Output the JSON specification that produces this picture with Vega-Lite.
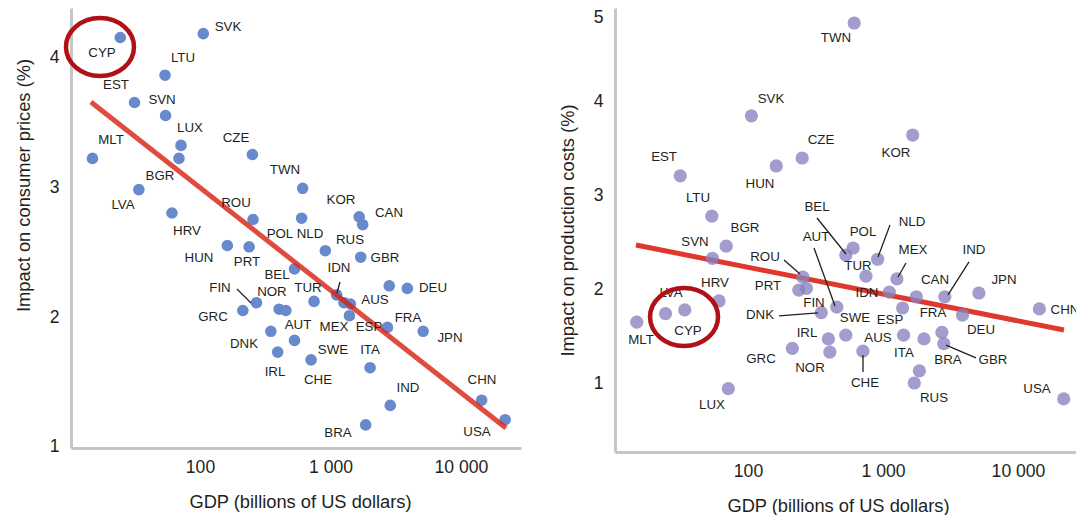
{
  "$schema": "https://vega.github.io/schema/vega-lite/v6.json",
  "background": "white",
  "padding": {"left": 14, "top": 8, "right": 0, "bottom": 0},
  "spacing": 37,
  "config": {
    "font": "Liberation Sans, Arial, sans-serif",
    "view": {"stroke": null},
    "axis": {"domainColor": "#c6c6c6", "domainWidth": 3, "ticks": false, "grid": false, "labelFontSize": 17.6, "labelColor": "#231f20", "titleFontSize": 18.3, "titleFontWeight": "normal", "titleColor": "#231f20", "format": "d"},
    "axisX": {"labelPadding": 10, "titlePadding": 18},
    "axisY": {"labelPadding": 12, "titlePadding": 16}
  },
  "datasets": {
    "pts": [
      {"c": "MLT", "gdp": 15, "cp": 3.22, "pc": 1.65},
      {"c": "CYP", "gdp": 24.5, "cp": 4.15, "pc": 1.74},
      {"c": "LVA", "gdp": 34, "cp": 2.98, "pc": 1.78},
      {"c": "EST", "gdp": 31.5, "cp": 3.65, "pc": 3.21},
      {"c": "SVN", "gdp": 54.5, "cp": 3.55, "pc": 2.33},
      {"c": "LTU", "gdp": 54, "cp": 3.86, "pc": 2.78},
      {"c": "HRV", "gdp": 61, "cp": 2.8, "pc": 1.875},
      {"c": "BGR", "gdp": 69, "cp": 3.22, "pc": 2.46},
      {"c": "LUX", "gdp": 71.5, "cp": 3.32, "pc": 0.94},
      {"c": "SVK", "gdp": 106, "cp": 4.18, "pc": 3.85},
      {"c": "HUN", "gdp": 162, "cp": 2.55, "pc": 3.315},
      {"c": "GRC", "gdp": 213, "cp": 2.05, "pc": 1.37},
      {"c": "PRT", "gdp": 238, "cp": 2.54, "pc": 1.99},
      {"c": "ROU", "gdp": 255, "cp": 2.75, "pc": 2.13},
      {"c": "CZE", "gdp": 252, "cp": 3.25, "pc": 3.4},
      {"c": "FIN", "gdp": 271, "cp": 2.11, "pc": 2.01},
      {"c": "DNK", "gdp": 349, "cp": 1.89, "pc": 1.75},
      {"c": "IRL", "gdp": 394, "cp": 1.73, "pc": 1.47},
      {"c": "NOR", "gdp": 404, "cp": 2.06, "pc": 1.33},
      {"c": "AUT", "gdp": 455, "cp": 2.05, "pc": 1.81},
      {"c": "BEL", "gdp": 530, "cp": 2.37, "pc": 2.365},
      {"c": "SWE", "gdp": 530, "cp": 1.82, "pc": 1.51},
      {"c": "POL", "gdp": 601, "cp": 2.76, "pc": 2.44},
      {"c": "TWN", "gdp": 612, "cp": 2.99, "pc": 4.84},
      {"c": "CHE", "gdp": 710, "cp": 1.67, "pc": 1.34},
      {"c": "TUR", "gdp": 748, "cp": 2.12, "pc": 2.14},
      {"c": "NLD", "gdp": 913, "cp": 2.51, "pc": 2.32},
      {"c": "IDN", "gdp": 1115, "cp": 2.17, "pc": 1.97},
      {"c": "MEX", "gdp": 1268, "cp": 2.11, "pc": 2.11},
      {"c": "ESP", "gdp": 1397, "cp": 2.01, "pc": 1.8},
      {"c": "AUS", "gdp": 1420, "cp": 2.1, "pc": 1.51},
      {"c": "KOR", "gdp": 1660, "cp": 2.77, "pc": 3.645},
      {"c": "RUS", "gdp": 1705, "cp": 2.46, "pc": 1.0},
      {"c": "CAN", "gdp": 1765, "cp": 2.71, "pc": 1.92},
      {"c": "BRA", "gdp": 1860, "cp": 1.17, "pc": 1.13},
      {"c": "ITA", "gdp": 2012, "cp": 1.61, "pc": 1.47},
      {"c": "FRA", "gdp": 2730, "cp": 1.92, "pc": 1.54},
      {"c": "GBR", "gdp": 2820, "cp": 2.24, "pc": 1.42},
      {"c": "IND", "gdp": 2870, "cp": 1.32, "pc": 1.92},
      {"c": "DEU", "gdp": 3880, "cp": 2.22, "pc": 1.725},
      {"c": "JPN", "gdp": 5130, "cp": 1.89, "pc": 1.96},
      {"c": "CHN", "gdp": 14400, "cp": 1.36, "pc": 1.79},
      {"c": "USA", "gdp": 21800, "cp": 1.21, "pc": 0.83}
    ],
    "fitL": [{"gdp": 14.6, "v": 3.654}, {"gdp": 22100, "v": 1.146}],
    "fitR": [{"gdp": 14.8, "v": 2.472}, {"gdp": 21900, "v": 1.565}],
    "ringL": [{"x": 17.13, "y": 4.077}],
    "ringR": [{"x": 33.6, "y": 1.704}],
    "labL": [
      {"c": "SVK", "x": 163.9, "y": 4.231},
      {"c": "CYP", "x": 17.74, "y": 4.031},
      {"c": "LTU", "x": 74.1, "y": 3.992},
      {"c": "EST", "x": 22.7, "y": 3.785},
      {"c": "SVN", "x": 51.2, "y": 3.669},
      {"c": "LUX", "x": 83.8, "y": 3.454},
      {"c": "CZE", "x": 188.7, "y": 3.377},
      {"c": "MLT", "x": 20.8, "y": 3.362},
      {"c": "BGR", "x": 49.4, "y": 3.085},
      {"c": "LVA", "x": 25.7, "y": 2.862},
      {"c": "ROU", "x": 188.7, "y": 2.877},
      {"c": "HRV", "x": 79.5, "y": 2.662},
      {"c": "TWN", "x": 448, "y": 3.131},
      {"c": "KOR", "x": 1204, "y": 2.9},
      {"c": "CAN", "x": 2808, "y": 2.8},
      {"c": "POL", "x": 410, "y": 2.638},
      {"c": "NLD", "x": 696.5, "y": 2.638},
      {"c": "RUS", "x": 1411, "y": 2.592},
      {"c": "GBR", "x": 2616, "y": 2.454},
      {"c": "HUN", "x": 98.2, "y": 2.454},
      {"c": "PRT", "x": 229.2, "y": 2.423},
      {"c": "BEL", "x": 389, "y": 2.323},
      {"c": "IDN", "x": 1162, "y": 2.377},
      {"c": "FIN", "x": 142.3, "y": 2.223},
      {"c": "NOR", "x": 356, "y": 2.192},
      {"c": "TUR", "x": 672, "y": 2.223},
      {"c": "DEU", "x": 6101, "y": 2.223},
      {"c": "AUS", "x": 2193, "y": 2.131},
      {"c": "GRC", "x": 125.8, "y": 2.0},
      {"c": "AUT", "x": 563.6, "y": 1.938},
      {"c": "MEX", "x": 1064, "y": 1.923},
      {"c": "ESP", "x": 1972, "y": 1.923},
      {"c": "FRA", "x": 3926, "y": 1.992},
      {"c": "JPN", "x": 8236, "y": 1.838},
      {"c": "DNK", "x": 217.4, "y": 1.792},
      {"c": "SWE", "x": 1045, "y": 1.746},
      {"c": "ITA", "x": 2008, "y": 1.746},
      {"c": "IRL", "x": 375.6, "y": 1.577},
      {"c": "CHE", "x": 802, "y": 1.515},
      {"c": "IND", "x": 3926, "y": 1.454},
      {"c": "CHN", "x": 14480, "y": 1.515},
      {"c": "BRA", "x": 1142, "y": 1.108},
      {"c": "USA", "x": 13265, "y": 1.115}
    ],
    "leadL": [
      {"x1": 192.1, "y1": 2.215, "x2": 246, "y2": 2.108},
      {"x1": 1182, "y1": 2.269, "x2": 1121, "y2": 2.185}
    ],
    "labR": [
      {"c": "SVK", "x": 148.1, "y": 4.029},
      {"c": "EST", "x": 23.9, "y": 3.411},
      {"c": "HUN", "x": 122.7, "y": 3.123},
      {"c": "LTU", "x": 42.6, "y": 2.973},
      {"c": "BGR", "x": 95.0, "y": 2.653},
      {"c": "SVN", "x": 40.5, "y": 2.504},
      {"c": "CZE", "x": 347.4, "y": 3.592},
      {"c": "TWN", "x": 448.6, "y": 4.68},
      {"c": "KOR", "x": 1248, "y": 3.453},
      {"c": "BEL", "x": 324.5, "y": 2.877},
      {"c": "AUT", "x": 318.9, "y": 2.557},
      {"c": "POL", "x": 711, "y": 2.611},
      {"c": "NLD", "x": 1640, "y": 2.717},
      {"c": "MEX", "x": 1668, "y": 2.419},
      {"c": "IND", "x": 4722, "y": 2.419},
      {"c": "TUR", "x": 652.8, "y": 2.248},
      {"c": "ROU", "x": 133.6, "y": 2.344},
      {"c": "CAN", "x": 2428, "y": 2.099},
      {"c": "PRT", "x": 140.7, "y": 2.035},
      {"c": "IDN", "x": 761.5, "y": 1.96},
      {"c": "FIN", "x": 308.3, "y": 1.853},
      {"c": "DNK", "x": 122.7, "y": 1.725},
      {"c": "SWE", "x": 620.3, "y": 1.693},
      {"c": "ESP", "x": 1127, "y": 1.672},
      {"c": "FRA", "x": 2347, "y": 1.747},
      {"c": "IRL", "x": 273.5, "y": 1.533},
      {"c": "AUS", "x": 918.4, "y": 1.48},
      {"c": "GRC", "x": 124.8, "y": 1.256},
      {"c": "NOR", "x": 288, "y": 1.16},
      {"c": "ITA", "x": 1430, "y": 1.32},
      {"c": "BRA", "x": 3030, "y": 1.245},
      {"c": "DEU", "x": 5320, "y": 1.565},
      {"c": "GBR", "x": 6528, "y": 1.245},
      {"c": "JPN", "x": 7876, "y": 2.099},
      {"c": "CHN", "x": 22290, "y": 1.779},
      {"c": "CHE", "x": 735.6, "y": 1.0},
      {"c": "RUS", "x": 2387, "y": 0.84},
      {"c": "USA", "x": 13830, "y": 0.936},
      {"c": "LVA", "x": 26.9, "y": 1.96},
      {"c": "HRV", "x": 56.96, "y": 2.067},
      {"c": "CYP", "x": 35.94, "y": 1.555},
      {"c": "MLT", "x": 16.12, "y": 1.459},
      {"c": "LUX", "x": 54.1, "y": 0.765}
    ],
    "leadR": [
      {"x1": 184.8, "y1": 2.312, "x2": 242.8, "y2": 2.163},
      {"x1": 324.5, "y1": 2.76, "x2": 531.9, "y2": 2.376},
      {"x1": 308.3, "y1": 2.44, "x2": 441.0, "y2": 1.821},
      {"x1": 1127, "y1": 2.685, "x2": 918.4, "y2": 2.344},
      {"x1": 1480, "y1": 2.28, "x2": 1292, "y2": 2.131},
      {"x1": 4335, "y1": 2.291, "x2": 3030, "y2": 1.939},
      {"x1": 169.7, "y1": 1.715, "x2": 330, "y2": 1.747},
      {"x1": 711, "y1": 1.299, "x2": 711, "y2": 1.117},
      {"x1": 2929, "y1": 1.405, "x2": 4885, "y2": 1.267}
    ]
  },
  "hconcat": [
    {
      "width": 450,
      "height": 440,
      "layer": [
        {
          "data": {"name": "pts"},
          "mark": {"type": "circle", "size": 135, "color": "#688acd", "opacity": 1},
          "encoding": {
            "x": {"field": "gdp", "type": "quantitative", "title": "GDP (billions of US dollars)",
              "scale": {"type": "log", "domain": [10.27, 28830], "nice": false, "zero": false},
              "axis": {"values": [100, 1000, 10000], "labelExpr": "datum.value == 1000 ? '1 000' : datum.value == 10000 ? '10 000' : '100'", "titleX": 229}},
            "y": {"field": "cp", "type": "quantitative", "title": "Impact on consumer prices (%)",
              "scale": {"domain": [0.9923, 4.377], "nice": false, "zero": false},
              "axis": {"values": [1, 2, 3, 4], "titleY": 177}}
          }
        },
        {
          "data": {"name": "fitL"},
          "mark": {"type": "line", "color": "#d81e10", "opacity": 0.8, "strokeWidth": 5},
          "encoding": {
            "x": {"field": "gdp", "type": "quantitative", "title": "GDP (billions of US dollars)"},
            "y": {"field": "v", "type": "quantitative", "title": "Impact on consumer prices (%)"}
          }
        },
        {
          "data": {"name": "leadL"},
          "mark": {"type": "rule", "color": "#231f20", "strokeWidth": 1.3},
          "encoding": {
            "x": {"field": "x1", "type": "quantitative", "title": "GDP (billions of US dollars)"},
            "y": {"field": "y1", "type": "quantitative", "title": "Impact on consumer prices (%)"},
            "x2": {"field": "x2"},
            "y2": {"field": "y2"}
          }
        },
        {
          "data": {"name": "labL"},
          "mark": {"type": "text", "fontSize": 13.3, "color": "#231f20", "align": "center", "baseline": "middle"},
          "encoding": {
            "x": {"field": "x", "type": "quantitative", "title": "GDP (billions of US dollars)"},
            "y": {"field": "y", "type": "quantitative", "title": "Impact on consumer prices (%)"},
            "text": {"field": "c"}
          }
        },
        {
          "data": {"name": "ringL"},
          "mark": {"type": "point", "shape": "M-1,0A1,0.85,0,1,1,1,0A1,0.85,0,1,1,-1,0Z", "size": 4624, "filled": false, "stroke": "#b01116", "strokeWidth": 4.5, "opacity": 1},
          "encoding": {
            "x": {"field": "x", "type": "quantitative", "title": "GDP (billions of US dollars)"},
            "y": {"field": "y", "type": "quantitative", "title": "Impact on consumer prices (%)"}
          }
        }
      ]
    },
    {
      "width": 462,
      "height": 444,
      "layer": [
        {
          "data": {"name": "fitR"},
          "mark": {"type": "line", "color": "#e0382c", "strokeWidth": 5},
          "encoding": {
            "x": {"field": "gdp", "type": "quantitative", "title": "GDP (billions of US dollars)",
              "scale": {"type": "log", "domain": [10.35, 27353], "nice": false, "zero": false},
              "axis": {"values": [100, 1000, 10000], "labelExpr": "datum.value == 1000 ? '1 000' : datum.value == 10000 ? '10 000' : '100'", "titleX": 223}},
            "y": {"field": "v", "type": "quantitative", "title": "Impact on production costs (%)",
              "scale": {"domain": [0.264, 5], "nice": false, "zero": false},
              "axis": {"values": [1, 2, 3, 4, 5], "labelFlush": true, "titlePadding": 16}}
          }
        },
        {
          "data": {"name": "pts"},
          "mark": {"type": "circle", "size": 175, "color": "#8882bf", "opacity": 0.78},
          "encoding": {
            "x": {"field": "gdp", "type": "quantitative", "title": "GDP (billions of US dollars)"},
            "y": {"field": "pc", "type": "quantitative", "title": "Impact on production costs (%)"}
          }
        },
        {
          "data": {"name": "leadR"},
          "mark": {"type": "rule", "color": "#231f20", "strokeWidth": 1.3},
          "encoding": {
            "x": {"field": "x1", "type": "quantitative", "title": "GDP (billions of US dollars)"},
            "y": {"field": "y1", "type": "quantitative", "title": "Impact on production costs (%)"},
            "x2": {"field": "x2"},
            "y2": {"field": "y2"}
          }
        },
        {
          "data": {"name": "labR"},
          "mark": {"type": "text", "fontSize": 13.3, "color": "#231f20", "align": "center", "baseline": "middle", "clip": true},
          "encoding": {
            "x": {"field": "x", "type": "quantitative", "title": "GDP (billions of US dollars)"},
            "y": {"field": "y", "type": "quantitative", "title": "Impact on production costs (%)"},
            "text": {"field": "c"}
          }
        },
        {
          "data": {"name": "ringR"},
          "mark": {"type": "point", "shape": "M-1,0A1,0.85,0,1,1,1,0A1,0.85,0,1,1,-1,0Z", "size": 4624, "filled": false, "stroke": "#b01116", "strokeWidth": 4.5, "opacity": 1},
          "encoding": {
            "x": {"field": "x", "type": "quantitative", "title": "GDP (billions of US dollars)"},
            "y": {"field": "y", "type": "quantitative", "title": "Impact on production costs (%)"}
          }
        }
      ]
    }
  ]
}
